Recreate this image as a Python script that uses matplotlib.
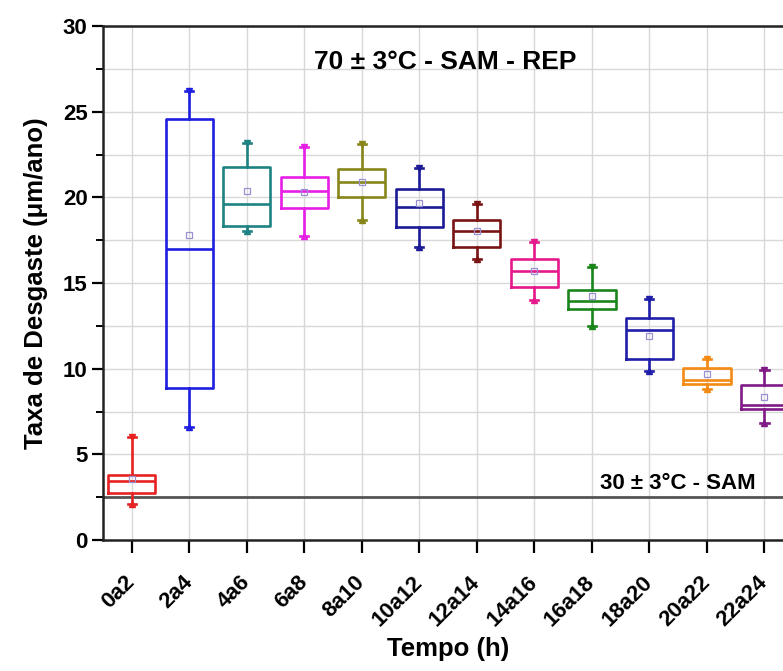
import matplotlib
matplotlib.use("Agg")
import matplotlib.pyplot as plt
from matplotlib.ticker import MultipleLocator

plt.rcParams['font.family'] = ['Liberation Sans', 'DejaVu Sans']
plt.rcParams['font.weight'] = 'bold'

# data
categories = ["0a2", "2a4", "4a6", "6a8", "8a10", "10a12",
              "12a14", "14a16", "16a18", "18a20", "20a22", "22a24"]
whisker_low = [2.1, 6.6, 18.05, 17.75, 18.7, 17.1, 16.4, 14.0, 12.5, 9.85, 8.8, 6.85]
q1 = [2.75, 8.9, 18.3, 19.4, 20.05, 18.25, 17.12, 14.75, 13.48, 10.55, 9.1, 7.65]
median = [3.42, 16.97, 19.6, 20.4, 20.88, 19.46, 18.06, 15.72, 13.95, 12.26, 9.34, 7.9]
q3 = [3.82, 24.6, 21.8, 21.17, 21.64, 20.47, 18.68, 16.4, 14.6, 12.94, 10.06, 9.07]
whisker_high = [6.03, 26.2, 23.2, 22.96, 23.1, 21.7, 19.6, 17.4, 15.96, 14.07, 10.55, 9.92]
mean = [3.55, 17.8, 20.4, 20.3, 20.9, 19.7, 18.05, 15.72, 14.24, 11.93, 9.69, 8.35]
colors = ["#e62222", "#1e1ee0", "#1f8282", "#e61ee6", "#86861a", "#1a1a96",
          "#7a1414", "#e6198c", "#1a861a", "#1e1eaa", "#f28a14", "#801a86"]
reference_level = 2.5

stats = []
for i in range(len(categories)):
    stats.append({"whislo": whisker_low[i], "q1": q1[i], "med": median[i],
                  "q3": q3[i], "whishi": whisker_high[i], "mean": mean[i],
                  "fliers": []})

fig = plt.figure(figsize=(7.83, 6.71), dpi=100)
ax = fig.add_axes([0.1315, 0.1952, 0.8816, 0.766])

positions = list(range(1, len(categories) + 1))
bp = ax.bxp(stats, positions=positions, widths=0.82, showmeans=True,
            capwidths=0.14, manage_ticks=False)

for i, c in enumerate(colors):
    bp["boxes"][i].set(color=c, linewidth=1.9)
    bp["medians"][i].set(color=c, linewidth=1.9)
    for w in bp["whiskers"][2 * i:2 * i + 2]:
        w.set(color=c, linewidth=1.9)
    for cap in bp["caps"][2 * i:2 * i + 2]:
        cap.set(color=c, linewidth=1.9)
    bp["means"][i].set(marker="s", markerfacecolor="none",
                       markeredgecolor="#9a8fd0", markersize=5,
                       markeredgewidth=0.9)
    ax.plot(positions[i], whisker_high[i], marker="v", color=c,
            markersize=5, linestyle="none")
    ax.plot(positions[i], whisker_low[i], marker="^", color=c,
            markersize=5, linestyle="none")

ax.axhline(reference_level, color="#555555", linewidth=2, zorder=1)

ax.set_xlim(0.5, len(categories) + 0.5)
ax.set_ylim(0, 30)
ax.set_xticks(positions)
ax.set_xticklabels(categories, rotation=45, ha="right", va="center",
                   rotation_mode="anchor", fontsize=16, fontweight="bold")
ax.yaxis.set_major_locator(MultipleLocator(5))
ax.yaxis.set_minor_locator(MultipleLocator(2.5))
for lab in ax.get_yticklabels():
    lab.set_fontsize(16)
    lab.set_fontweight("bold")

ax.tick_params(axis="x", which="major", direction="out", length=9, width=1.6, pad=19)
ax.tick_params(axis="y", which="major", direction="out", length=8, width=1.6, pad=3)
ax.tick_params(axis="y", which="minor", direction="out", length=5, width=1.4)

ax.grid(True, which="major", axis="x", color="#d8d8d8", linewidth=1)
ax.grid(True, which="both", axis="y", color="#d8d8d8", linewidth=1)
ax.set_axisbelow(True)

for side in ["left", "bottom", "top", "right"]:
    ax.spines[side].set_linewidth(1.8)
    ax.spines[side].set_color("#222222")

ax.set_ylabel("Taxa de Desgaste (\u03bcm/ano)", fontsize=18.5, fontweight="bold", labelpad=11)
ax.set_xlabel("Tempo (h)", fontsize=18.5, fontweight="bold", labelpad=5)

ax.text(0.4965, 0.9305, "70 \u00b1 3\u00b0C - SAM - REP", transform=ax.transAxes,
        ha="center", va="center", fontsize=19, fontweight="bold")
ax.text(0.833, 0.110, "30 \u00b1 3\u00b0C - SAM", transform=ax.transAxes,
        ha="center", va="center", fontsize=16, fontweight="bold")

fig.savefig("out.png", dpi=100)
